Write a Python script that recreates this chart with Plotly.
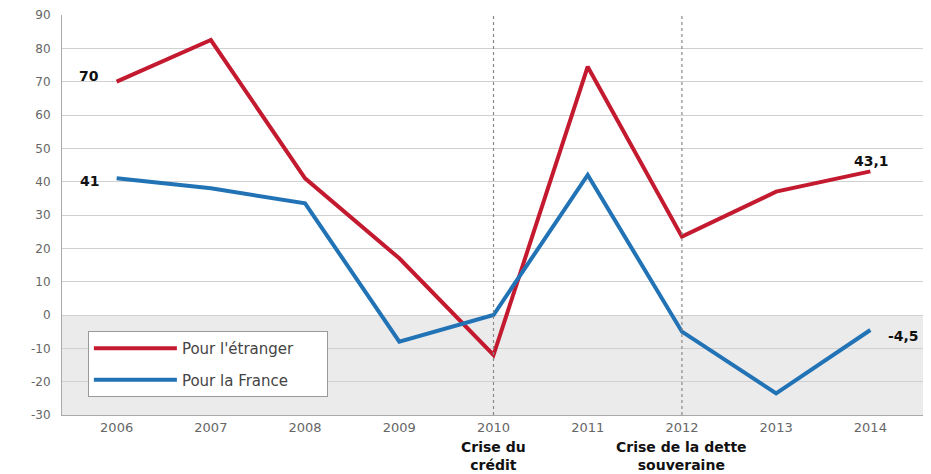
import plotly.graph_objects as go

years = [2006, 2007, 2008, 2009, 2010, 2011, 2012, 2013, 2014]
etranger = [70, 82.5, 41, 17, -12, 74.5, 23.5, 37, 43.1]
france = [41, 38, 33.5, -8, 0, 42, -5, -23.5, -4.5]

y_ticks = [-30, -20, -10, 0, 10, 20, 30, 40, 50, 60, 70, 80, 90]
y_labels = ['-30', '-20', '-10', '0', '10', '20', '30', '40', '50', '60', '70', '80', '90']

crises = [(2010, 'Crise du<br>crédit'), (2012, 'Crise de la dette<br>souveraine')]

red = '#c41a30'
blue = '#2273b5'
pad = '\u00a0' * 6  # elargit la boite de legende

fig = go.Figure()
fig.add_trace(go.Scatter(x=years, y=etranger, mode='lines', name='Pour l\'étranger' + pad,
                         legendgroup='a', line=dict(color=red, width=4)))
fig.add_trace(go.Scatter(x=years, y=france, mode='lines', name='Pour la France',
                         legendgroup='b', line=dict(color=blue, width=4)))

# zone grise sous zero
fig.add_shape(type='rect', xref='paper', x0=0, x1=1, yref='y', y0=-30, y1=0,
              fillcolor='#ebebeb', line_width=0, layer='below')

for yr, txt in crises:
    fig.add_shape(type='line', x0=yr, x1=yr, yref='paper', y0=0, y1=1,
                  line=dict(color='#888888', width=1.2, dash='dot'))
    fig.add_annotation(x=yr, y=0, yref='paper', yanchor='top', yshift=-22,
                       text='<b>' + txt + '</b>', showarrow=False, align='center',
                       font=dict(size=14, color='#111111', family='DejaVu Sans'))

bold = dict(size=14, color='#111111', family='DejaVu Sans')
fig.add_annotation(x=years[0], y=etranger[0], text='<b>70</b>', showarrow=False,
                   xanchor='right', xshift=-16, yshift=6, font=bold)
fig.add_annotation(x=years[0], y=france[0], text='<b>41</b>', showarrow=False,
                   xanchor='right', xshift=-16, yshift=-3, font=bold)
fig.add_annotation(x=years[-1], y=etranger[-1], text='<b>43,1</b>', showarrow=False,
                   xanchor='left', xshift=-18, yshift=10, font=bold)
fig.add_annotation(x=years[-1], y=france[-1], text='<b>-4,5</b>', showarrow=False,
                   xanchor='left', xshift=16, yshift=-6, font=bold)

fig.update_layout(
    width=931, height=474,
    margin=dict(l=54, r=14, t=7, b=67),
    plot_bgcolor='white', paper_bgcolor='white',
    font=dict(family='DejaVu Sans', size=12, color='#666666'),
    xaxis=dict(range=[2005.42, 2014.58], tickmode='array', tickvals=years,
               showgrid=False, zeroline=False, showline=True, linecolor='#aaaaaa',
               ticks='', tickfont=dict(size=13, color='#666666'), automargin=False),
    yaxis=dict(range=[-30, 90], tickmode='array', tickvals=y_ticks, ticktext=y_labels,
               showgrid=True, gridcolor='#d0d0d0', gridwidth=1,
               zeroline=False, showline=True, linecolor='#aaaaaa', ticks='',
               ticklabelstandoff=8, automargin=False,
               tickfont=dict(size=12, color='#666666')),
    legend=dict(x=0.03, y=0.21, xanchor='left', yanchor='top', bgcolor='white',
                bordercolor='#999999', borderwidth=1, font=dict(size=15, color='#444444'),
                itemwidth=83, tracegroupgap=9, traceorder='grouped'),
    showlegend=True,
)

fig.write_html('out.html')
